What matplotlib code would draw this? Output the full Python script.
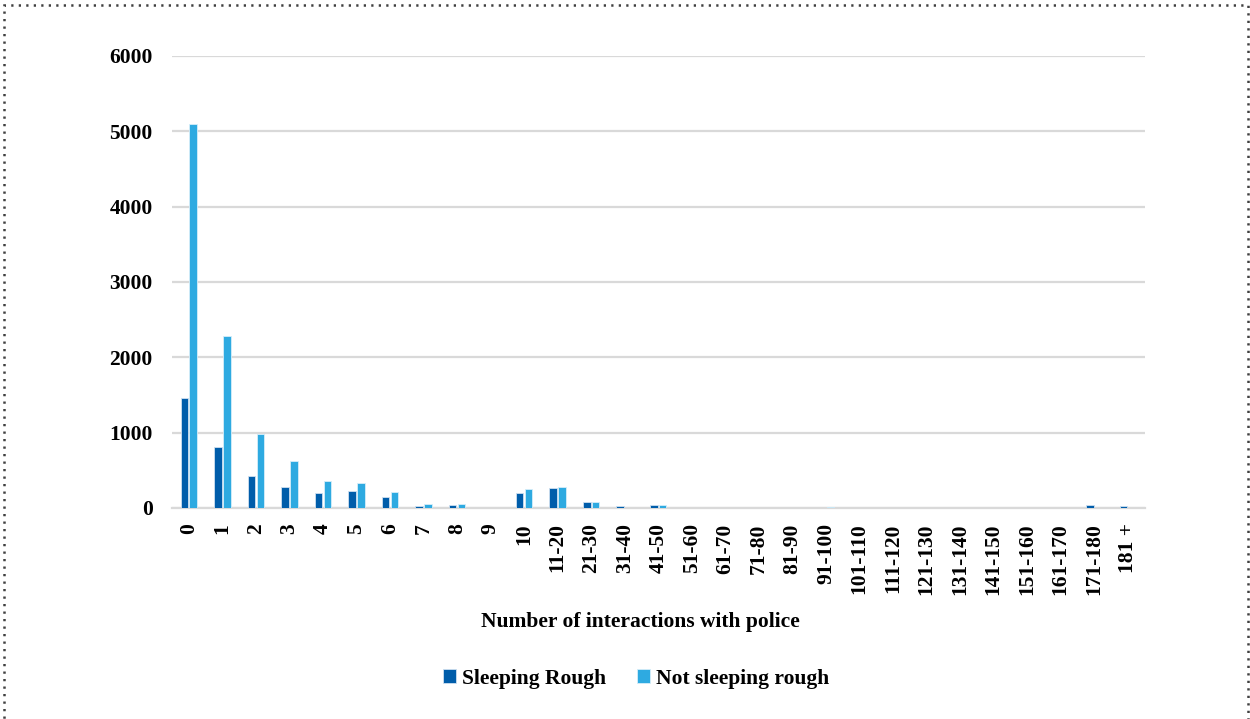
import matplotlib
matplotlib.use("Agg")
import matplotlib.pyplot as plt
from matplotlib.patches import Rectangle
import numpy as np

categories = ["0", "1", "2", "3", "4", "5", "6", "7", "8", "9", "10",
              "11-20", "21-30", "31-40", "41-50", "51-60", "61-70", "71-80",
              "81-90", "91-100", "101-110", "111-120", "121-130", "131-140",
              "141-150", "151-160", "161-170", "171-180", "181 +"]
sleeping_rough = [1460, 815, 430, 275, 195, 227, 147, 31, 40, 5, 195,
                  262, 84, 20, 45, 3, 1, 1, 1, 6, 1, 1, 2, 1,
                  3, 1, 1, 35, 25]
not_sleeping_rough = [5090, 2280, 980, 630, 355, 337, 208, 57, 57, 5, 253,
                      275, 75, 3, 35, 3, 2, 1, 1, 18, 2, 1, 2, 1,
                      3, 2, 1, 5, 2]

serif = ["Liberation Serif", "DejaVu Serif"]
plt.rcParams["font.family"] = serif
plt.rcParams["font.weight"] = "bold"

fig = plt.figure(figsize=(12.5, 7.19), dpi=100)
ax = fig.add_axes([0.1376, 0.2935, 0.778, 0.6287])

x = np.arange(len(categories))
w = 0.225
gap = 0.04
c_sr = "#005DAA"
c_nsr = "#2EAAE1"
ax.bar(x - (w + gap) / 2, sleeping_rough, width=w, color=c_sr,
       edgecolor="#cfe0f0", linewidth=0.6, label="Sleeping Rough", zorder=3)
ax.bar(x + (w + gap) / 2, not_sleeping_rough, width=w, color=c_nsr,
       edgecolor="#d6eef9", linewidth=0.6, label="Not sleeping rough", zorder=3)

ax.set_xlim(-0.5, len(categories) - 0.5)
ax.set_ylim(0, 6000)
ax.set_yticks(range(0, 6001, 1000))
ax.yaxis.grid(True, color="#D9D9D9", linewidth=1.6, zorder=0)
ax.set_axisbelow(True)
for s in ["top", "right", "left"]:
    ax.spines[s].set_visible(False)
ax.spines["bottom"].set_color("#D9D9D9")
ax.spines["bottom"].set_linewidth(1.6)
ax.tick_params(axis="both", length=0, labelsize=15.5)
ax.tick_params(axis="y", pad=14)
ax.tick_params(axis="x", pad=11)
ax.set_xticks(x)
ax.set_xticklabels(categories, rotation=90, fontweight="bold")
for lbl in ax.get_yticklabels():
    lbl.set_fontweight("bold")

ax.set_xlabel("Number of interactions with police", fontsize=15.5,
              fontweight="bold", labelpad=13)
ax.xaxis.set_label_coords(0.482, -0.2295)

leg = fig.legend(loc="center", bbox_to_anchor=(0.509, 0.056), ncol=2,
                 frameon=False, handlelength=0.6,
                 handleheight=0.6, handletextpad=0.3, columnspacing=1.4,
                 prop={"weight": "bold", "size": 15.5, "family": serif})

fig.patches.append(Rectangle((3.5 / 1250, -0.05), 1244 / 1250, 1.05 - 4.5 / 719,
                             transform=fig.transFigure, fill=False,
                             edgecolor="#404040", linewidth=1.8,
                             linestyle=(0, (0.9, 2.1))))

fig.savefig("out.png", dpi=100)
